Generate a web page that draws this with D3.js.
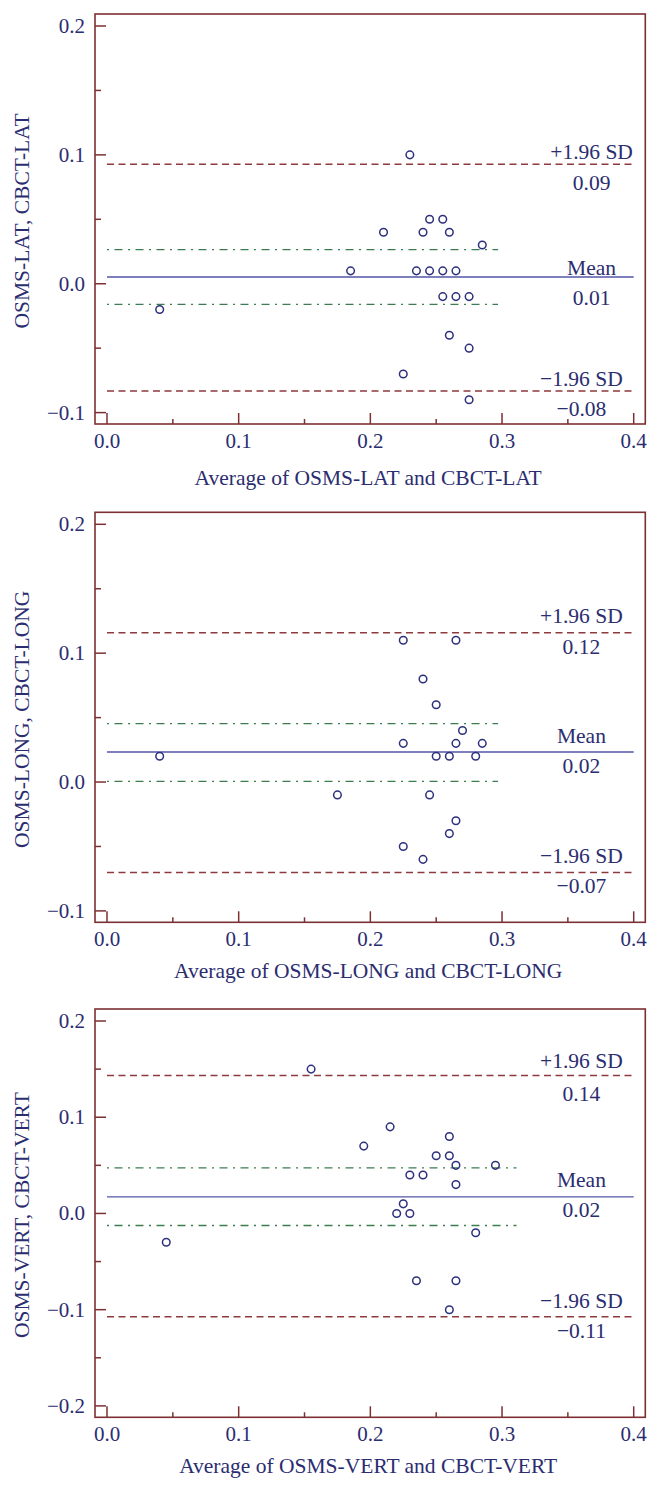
<!DOCTYPE html>
<html>
<head>
<meta charset="utf-8">
<script src="https://cdn.jsdelivr.net/npm/d3@7"></script>
<style>
html,body{margin:0;padding:0;background:#fff;}
svg{display:block;}
</style>
</head>
<body>
<svg id="chart" width="660" height="1494"></svg>
<script>
// ---------- DATA ----------
const latX  = [0.23,0.245,0.255,0.21,0.24,0.26,0.285,0.185,0.235,0.245,0.255,0.265,0.255,0.265,0.275,0.26,0.275,0.225,0.275,0.04];
const latY  = [0.10,0.05,0.05,0.04,0.04,0.04,0.03,0.01,0.01,0.01,0.01,0.01,-0.01,-0.01,-0.01,-0.04,-0.05,-0.07,-0.09,-0.02];
const longX = [0.225,0.265,0.24,0.25,0.27,0.225,0.265,0.285,0.25,0.26,0.28,0.175,0.245,0.265,0.26,0.225,0.24,0.04];
const longY = [0.11,0.11,0.08,0.06,0.04,0.03,0.03,0.03,0.02,0.02,0.02,-0.01,-0.01,-0.03,-0.04,-0.05,-0.06,0.02];
const vertX = [0.215,0.195,0.26,0.25,0.26,0.265,0.295,0.23,0.24,0.265,0.225,0.22,0.23,0.28,0.235,0.265,0.26,0.155,0.045];
const vertY = [0.09,0.07,0.08,0.06,0.06,0.05,0.05,0.04,0.04,0.03,0.01,0.00,0.00,-0.02,-0.07,-0.07,-0.10,0.15,-0.03];

// limits of agreement: [upper +1.96 SD, mean, lower -1.96 SD]
const latStats  = [0.0927, 0.0052, -0.0832];
const longStats = [0.1158, 0.0233, -0.0702];
const vertStats = [0.1433, 0.0172, -0.1074];
const latLabels  = ["0.09", "0.01", "\u22120.08"];
const longLabels = ["0.12", "0.02", "\u22120.07"];
const vertLabels = ["0.14", "0.02", "\u22120.11"];
const lineNames = ["+1.96 SD", "Mean", "\u22121.96 SD"];

// 95% CI of the mean (green dash-dot): [upper, lower, x end]
const latCI  = [0.0264, -0.0160, 0.297];
const longCI = [0.0453, 0.0005, 0.297];
const vertCI = [0.0474, -0.0125, 0.311];

const xTicks = [0, 0.1, 0.2, 0.3, 0.4];
const xMinor = [0.05, 0.15, 0.25, 0.35];
const yTicksA = [-0.1, 0, 0.1, 0.2];
const yMinorA = [-0.05, 0.05, 0.15];
const yTicksB = [-0.2, -0.1, 0, 0.1, 0.2];
const yMinorB = [-0.15, -0.05, 0.05, 0.15];

const xTitles = ["Average of OSMS-LAT and CBCT-LAT","Average of OSMS-LONG and CBCT-LONG","Average of OSMS-VERT and CBCT-VERT"];
const yTitles = ["OSMS-LAT, CBCT-LAT","OSMS-LONG, CBCT-LONG","OSMS-VERT, CBCT-VERT"];

// ---------- STYLE / LAYOUT ----------
const FONT = "'Liberation Serif','Times New Roman',serif";
const TEXT = "#2b2d70";
const FRAME = "#7d3033";
const RED = "#8e3a3c";
const GREEN = "#3c7d50";
const BLUE = "#5256a6";
const PT = "#2d307c";
const FS_TICK = 21, FS_LAB = 21.5, FS_TITLE = 21.5;

const fx0 = 95, fx1 = 645.3;
const panels = [
  {top:14, h:410, xs:latX, ys:latY, stats:latStats, vals:latLabels, ci:latCI, yt:yTicksA, ym:yMinorA, ydom:[-0.1,0.2],
   titleDy:61, labX:[0.368,0.368,0.3603], nameDy:[-12,-8.7,-11.7], valDy:[19,21,18.3]},
  {top:512.3, h:410, xs:longX, ys:longY, stats:longStats, vals:longLabels, ci:longCI, yt:yTicksA, ym:yMinorA, ydom:[-0.1,0.2],
   titleDy:56, labX:[0.3603,0.3603,0.3603], nameDy:[-17,-16,-16.5], valDy:[14.5,14,13.5]},
  {top:1009, h:408.3, xs:vertX, ys:vertY, stats:vertStats, vals:vertLabels, ci:vertCI, yt:yTicksB, ym:yMinorB, ydom:[-0.2,0.2],
   titleDy:56, labX:[0.3603,0.3603,0.3603], nameDy:[-14.3,-16.7,-15.7], valDy:[18,13.6,14.3]}
];

const svg = d3.select("#chart");
const x = d3.scaleLinear().domain([0, 0.4]).range([107, 633.7]);

panels.forEach((p, i) => {
  const g = svg.append("g");
  const bottom = p.top + p.h;
  const y = d3.scaleLinear().domain(p.ydom).range([bottom - 11.4, p.top + 12]);

  const lineStyles = [
    {c:RED, dash:"7,4.5", w:1.4},
    {c:BLUE, dash:null, w:1.4},
    {c:RED, dash:"7,4.5", w:1.4}
  ];
  [p.ci[0], p.ci[1]].forEach(v => {
    g.append("line")
      .attr("x1", x(0)).attr("x2", x(p.ci[2]))
      .attr("y1", y(v)).attr("y2", y(v))
      .attr("stroke", GREEN).attr("stroke-width", 1.3)
      .attr("stroke-dasharray", "2,5.5,8,5.5");
  });
  p.stats.forEach((v, k) => {
    const s = lineStyles[k];
    const ln = g.append("line")
      .attr("x1", x(0)).attr("x2", x(0.4))
      .attr("y1", y(v)).attr("y2", y(v))
      .attr("stroke", s.c).attr("stroke-width", s.w);
    if (s.dash) ln.attr("stroke-dasharray", s.dash);
    g.append("text")
      .attr("x", x(p.labX[k])).attr("y", y(v) + p.nameDy[k])
      .attr("text-anchor", "middle").attr("dominant-baseline", "central")
      .attr("font-family", FONT).attr("font-size", FS_LAB).attr("fill", TEXT)
      .text(lineNames[k]);
    g.append("text")
      .attr("x", x(p.labX[k])).attr("y", y(v) + p.valDy[k])
      .attr("text-anchor", "middle").attr("dominant-baseline", "central")
      .attr("font-family", FONT).attr("font-size", FS_LAB).attr("fill", TEXT)
      .text(p.vals[k]);
  });

  g.selectAll("circle.pt").data(p.xs.map((v, j) => [v, p.ys[j]]))
    .enter().append("circle")
    .attr("cx", d => x(d[0])).attr("cy", d => y(d[1]))
    .attr("r", 3.8).attr("fill", "none")
    .attr("stroke", PT).attr("stroke-width", 1.5);

  g.append("rect")
    .attr("x", fx0).attr("y", p.top)
    .attr("width", fx1 - fx0).attr("height", p.h)
    .attr("fill", "none").attr("stroke", FRAME).attr("stroke-width", 1.6);

  xTicks.forEach(t => {
    g.append("line").attr("x1", x(t)).attr("x2", x(t))
      .attr("y1", bottom).attr("y2", bottom - 11)
      .attr("stroke", FRAME).attr("stroke-width", 1.5);
    g.append("text").attr("x", x(t)).attr("y", bottom + 17)
      .attr("text-anchor", "middle").attr("dominant-baseline", "central")
      .attr("font-family", FONT).attr("font-size", FS_TICK).attr("fill", TEXT)
      .text(d3.format(".1f")(t));
  });
  xMinor.forEach(t => {
    g.append("line").attr("x1", x(t)).attr("x2", x(t))
      .attr("y1", bottom).attr("y2", bottom - 5)
      .attr("stroke", FRAME).attr("stroke-width", 1.5);
  });
  p.yt.forEach(t => {
    g.append("line").attr("x1", fx0).attr("x2", fx0 + 11)
      .attr("y1", y(t)).attr("y2", y(t))
      .attr("stroke", FRAME).attr("stroke-width", 1.5);
    g.append("text").attr("x", 85).attr("y", y(t))
      .attr("text-anchor", "end").attr("dominant-baseline", "central")
      .attr("font-family", FONT).attr("font-size", FS_TICK).attr("fill", TEXT)
      .text(d3.format(".1f")(t).replace("-", "\u2212"));
  });
  p.ym.forEach(t => {
    g.append("line").attr("x1", fx0).attr("x2", fx0 + 6)
      .attr("y1", y(t)).attr("y2", y(t))
      .attr("stroke", FRAME).attr("stroke-width", 1.5);
  });

  g.append("text")
    .attr("x", (fx0 + fx1) / 2 - 2).attr("y", bottom + p.titleDy)
    .attr("text-anchor", "middle")
    .attr("font-family", FONT).attr("font-size", FS_TITLE).attr("fill", TEXT)
    .text(xTitles[i]);
  g.append("text")
    .attr("transform", `translate(22,${p.top + p.h / 2 + 2}) rotate(-90)`)
    .attr("text-anchor", "middle").attr("dominant-baseline", "central")
    .attr("font-family", FONT).attr("font-size", FS_TITLE).attr("fill", TEXT)
    .text(yTitles[i]);
});
</script>
</body>
</html>
